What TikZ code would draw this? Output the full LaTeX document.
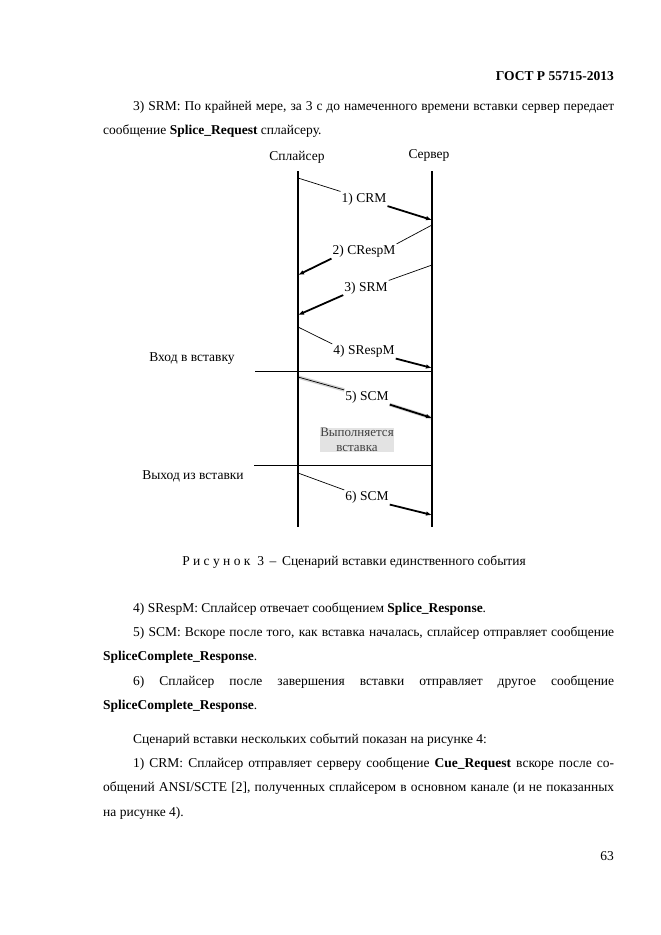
\documentclass[tikz,border=0pt]{standalone}
\usepackage{fontspec}
\setmainfont{Liberation Serif}
\usetikzlibrary{arrows.meta}
\begin{document}
\begin{tikzpicture}[x=1pt,y=-1pt,
  txt/.style={anchor=base west,inner sep=0pt,font=\fontsize{13.5}{16}\selectfont},
  lbl/.style={anchor=base,inner sep=1pt,font=\fontsize{13.5}{16}\selectfont},
  life/.style={line width=2.4pt},
  thinl/.style={line width=0.7pt},
  msg/.style={line width=1.8pt,-{Latex[length=6pt,width=4.5pt]}},
  halo/.style={line width=3.5pt,gray!35},
  hline/.style={line width=0.8pt}]
\useasboundingbox (0,0) rectangle (661,935);

% header and first paragraph
\node[txt,anchor=base east,font=\fontsize{13.5}{16}\selectfont\bfseries] (hdr) at (614,80) {ГОСТ Р 55715-2013};
\node[txt] (p1a) at (133,110) {\makebox[481pt][s]{3) SRM: По крайней мере, за 3 с до намеченного времени вставки сервер передает}};
\node[txt] (p1b) at (103,134) {сообщение \textbf{Splice\_Request} сплайсеру.};

% diagram
\node[lbl] (spl) at (297,160) {Сплайсер};
\node[lbl] (srv) at (429,158) {Сервер};
\coordinate (Ltop) at (298,171);
\coordinate (Lbot) at (298,527);
\coordinate (Rtop) at (432,171);
\coordinate (Rbot) at (432,527);

% box (insertion)
\coordinate (inL) at (255,371);
\coordinate (inR) at (432,371);
\coordinate (outL) at (254,465);
\coordinate (outR) at (432,465);
\node[lbl] (vin) at (192,361.5) {Вход в вставку};
\node[lbl] (vout) at (193,479.5) {Выход из вставки};
\node[anchor=center,align=center,font=\fontsize{13}{15}\selectfont,text=black!75,fill=gray!22,inner sep=0.5pt] (vyp) at (357,440) {Выполняется\\вставка};

% messages
\node[lbl] (m1) at (364,202) {1) CRM};
\node[lbl] (m2) at (364,254.5) {2) CRespM};
\node[lbl] (m3) at (366,291) {3) SRM};
\node[lbl] (m4) at (364,354.5) {4) SRespM};
\node[lbl] (m5) at (367,400.5) {5) SCM};
\node[lbl] (m6) at (367,500.5) {6) SCM};

\coordinate (s1) at (298,178);  \coordinate (e1) at (432,220);
\coordinate (s2) at (432,225);  \coordinate (e2) at (298,275);
\coordinate (s3) at (432,265);  \coordinate (e3) at (298,315);
\coordinate (s4) at (298,327);  \coordinate (e4) at (432,368);
\coordinate (s5) at (298,377);  \coordinate (e5) at (432,418);
\coordinate (s6) at (298,473);  \coordinate (e6) at (432,515);

% halo around message 5
\draw[halo] (s5) -- (m5.north west);
\draw[halo] (m5.south east) -- (e5);

\draw[hline] (inL) -- (inR);
\draw[hline] (outL) -- (outR);
\draw[life] (Ltop) -- (Lbot);
\draw[life,line width=2.1pt] (Rtop) -- (Rbot);

\draw[thinl] (s1) -- (m1.north west);
\draw[msg] (m1.south east) -- (e1);
\draw[thinl] (s2) -- (m2.north east);
\draw[msg] (m2.south west) -- (e2);
\draw[thinl] (s3) -- (m3.north east);
\draw[msg] (m3.south west) -- (e3);
\draw[thinl] (s4) -- (m4.north west);
\draw[msg] (m4.south east) -- (e4);
\draw[thinl] (s5) -- (m5.north west);
\draw[msg] (m5.south east) -- (e5);
\draw[thinl] (s6) -- (m6.north west);
\draw[msg] (m6.south east) -- (e6);

% caption
\node[lbl,inner sep=0pt] (cap) at (354,565) {Р и с у н о к\ \ 3 \,–\, Сценарий вставки единственного события};

% lower text
\node[txt] (p4) at (133,612) {4) SRespM: Сплайсер отвечает сообщением \textbf{Splice\_Response}.};
\node[txt] (p5a) at (133,636) {\makebox[481pt][s]{5) SCM: Вскоре после того, как вставка началась, сплайсер отправляет сообщение}};
\node[txt] (p5b) at (103,660) {\textbf{SpliceComplete\_Response}.};
\node[txt] (p6a) at (133,685) {\makebox[481pt][s]{6) Сплайсер после завершения вставки отправляет другое сообщение}};
\node[txt] (p6b) at (103,709) {\textbf{SpliceComplete\_Response}.};
\node[txt] (p7) at (133,743) {Сценарий вставки нескольких событий показан на рисунке 4:};
\node[txt] (p8a) at (133,767) {\makebox[481pt][s]{1) CRM: Сплайсер отправляет серверу сообщение \textbf{Cue\_Request} вскоре после со-}};
\node[txt] (p8b) at (103,791) {\makebox[511pt][s]{общений ANSI/SCTE [2], полученных сплайсером в основном канале (и не показанных}};
\node[txt] (p8c) at (103,816) {на рисунке 4).};
\node[txt,anchor=base east] (pg) at (614,860) {63};
\end{tikzpicture}
\end{document}
